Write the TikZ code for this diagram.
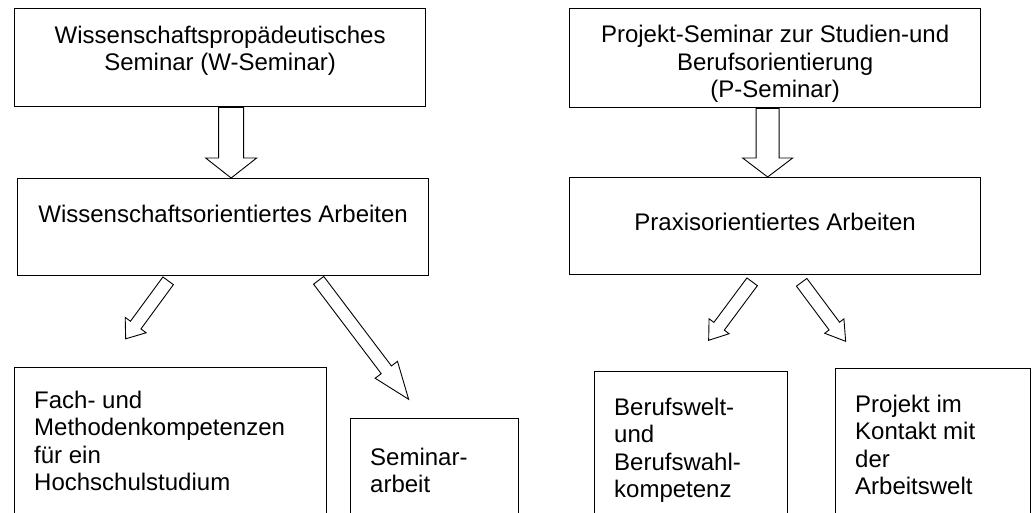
\documentclass[tikz,border=0pt]{standalone}
\usepackage{fontspec}
\setmainfont{Liberation Sans}
\usetikzlibrary{positioning, calc}

\tikzset{
  frame/.style={draw, line width=1.3pt, inner sep=0pt, anchor=north west},
  boxtext/.style={inner sep=0pt, font=\fontsize{24pt}{27.5pt}\selectfont},
  fat arrow/.style n args={3}{draw, line width=0.9pt, line join=miter,
    to path={($(\tikztostart)!#1!90:(\tikztotarget)$)
      -- ($($(\tikztotarget)!#3!(\tikztostart)$)!#1!90:(\tikztotarget)$)
      -- ($($(\tikztotarget)!#3!(\tikztostart)$)!#2!90:(\tikztotarget)$)
      -- (\tikztotarget)
      -- ($($(\tikztotarget)!#3!(\tikztostart)$)!#2!-90:(\tikztotarget)$)
      -- ($($(\tikztotarget)!#3!(\tikztostart)$)!#1!-90:(\tikztotarget)$)
      -- ($(\tikztostart)!#1!-90:(\tikztotarget)$) -- cycle}}
}

\begin{document}
\begin{tikzpicture}[x=1pt, y=-1pt]
   \useasboundingbox (0,0) rectangle (1033,512);
   \clip (0,0) rectangle (1033,512);

   \node[frame, minimum width=411pt, minimum height=98pt] (w1) at (14,8) {};
   \node[frame, minimum width=411pt, minimum height=97pt] (w2) at (17,178) {};
   \node[frame, minimum width=411pt, minimum height=99pt] (p1) at (569,8) {};
   \node[frame, minimum width=411pt, minimum height=97pt] (p2) at (569,177) {};
   \node[frame, minimum width=312pt, minimum height=200pt] (fk) at (14,367) {};
   \node[frame, minimum width=168pt, minimum height=150pt] (sa) at (350,418) {};
   \node[frame, minimum width=193pt, minimum height=200pt] (bk) at (594,371) {};
   \node[frame, minimum width=195pt, minimum height=200pt] (pk) at (835,368) {};

   \node[boxtext, align=center, below=17.5pt of w1.north] (w1t)
     {Wissenschaftspropädeutisches\\Seminar (W-Seminar)};
   \node[boxtext, align=center, below=17pt of p1.north] (p1t)
     {Projekt-Seminar zur Studien-und\\Berufsorientierung\\(P-Seminar)};
   \node[boxtext, below=26.5pt of w2.north] (w2t) {Wissenschaftsorientiertes Arbeiten};
   \node[boxtext, below=35.5pt of p2.north] (p2t) {Praxisorientiertes Arbeiten};
   \node[boxtext, align=left, below right=23.5pt and 20pt of fk.north west] (fkt)
     {Fach- und\\Methodenkompetenzen\\für ein\\Hochschulstudium};
   \node[boxtext, align=left, below right=29.5pt and 20pt of sa.north west] (sat)
     {Seminar-\\arbeit};
   \node[boxtext, align=left, below right=26.5pt and 20pt of bk.north west] (bkt)
     {Berufswelt-\\und\\Berufswahl-\\kompetenz};
   \node[boxtext, align=left, below right=26.5pt and 20pt of pk.north west] (pkt)
     {Projekt im\\Kontakt mit\\der\\Arbeitswelt};

   \coordinate (wa1) at ([xshift=11pt]w1.south);
   \coordinate (wa2) at (wa1 |- w2.north);
   \coordinate (wl1) at ([shift={(-55pt,-4.5pt)}]w2.south);
   \coordinate (wl2) at ([shift={(-97.5pt,-62.5pt)}]w2.south);
   \coordinate (wr1) at ([shift={(95.5pt,-4pt)}]w2.south);
   \coordinate (wr2) at ([shift={(185.5pt,-123pt)}]w2.south);
   \coordinate (pa1) at ([xshift=-7.5pt]p1.south);
   \coordinate (pa2) at (pa1 |- p2.north);
   \coordinate (pl1) at ([shift={(-23pt,-6.5pt)}]p2.south);
   \coordinate (pl2) at ([shift={(-66.5pt,-65pt)}]p2.south);
   \coordinate (pr1) at ([shift={(26.5pt,-7pt)}]p2.south);
   \coordinate (pr2) at ([shift={(70.5pt,-66pt)}]p2.south);

   \draw[fat arrow={12.5pt}{25.5pt}{20pt}] (wa1) to (wa2);
   \draw[fat arrow={6.5pt}{13pt}{17pt}] (wl1) to (wl2);
   \draw[fat arrow={6.4pt}{14pt}{37pt}] (wr1) to (wr2);
   \draw[fat arrow={11.5pt}{25pt}{19pt}] (pa1) to (pa2);
   \draw[fat arrow={6.5pt}{12.5pt}{17.5pt}] (pl1) to (pl2);
   \draw[fat arrow={6.5pt}{12pt}{19pt}] (pr1) to (pr2);
\end{tikzpicture}
\end{document}
